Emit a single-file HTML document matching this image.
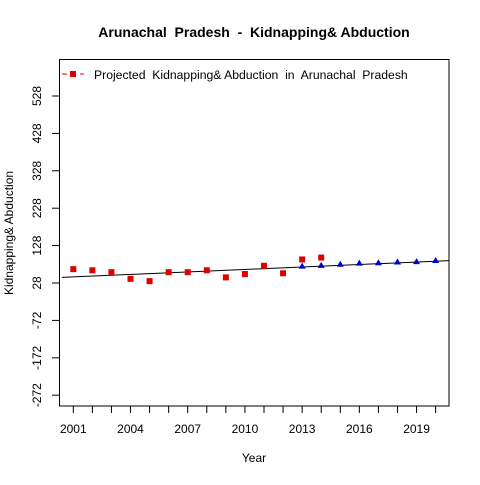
<!DOCTYPE html>
<html><head><meta charset="utf-8"><style>
body{margin:0;background:#fff;}
svg text{font-family:"Liberation Sans",Arial,sans-serif;white-space:pre;}
</style></head><body>
<svg id="chart" width="480" height="480" xmlns="http://www.w3.org/2000/svg">
<rect width="480" height="480" fill="#fff"/>
<defs><clipPath id="pc"><rect x="59.5" y="59.5" width="389.5" height="346.5"/></clipPath></defs>
<text x="254" y="37" text-anchor="middle" font-size="14" font-weight="bold">Arunachal  Pradesh  -  Kidnapping&amp; Abduction</text>
<text x="254" y="462" text-anchor="middle" font-size="12">Year</text>
<text transform="translate(13,233) rotate(-90)" text-anchor="middle" font-size="12">Kidnapping&amp; Abduction</text>
<g id="axes"></g>
<g id="marks" clip-path="url(#pc)"></g>
<rect x="59.5" y="59.5" width="389.5" height="346.5" fill="none" stroke="#000"/>
<g>
<line x1="62" y1="74" x2="84" y2="74" stroke="#e00000" stroke-dasharray="5,4"/>
<rect x="70" y="71" width="6" height="6" fill="#e00000"/>
<text x="94" y="79" font-size="12.2">Projected  Kidnapping&amp; Abduction  in  Arunachal  Pradesh</text>
</g>
</svg>
<script>
const actualYears=[2001,2002,2003,2004,2005,2006,2007,2008,2009,2010,2011,2012,2013,2014];
const actualValues=[65,62,57,39,33,57,57,62,43,52,74,54,91,96];
const projYears=[2013,2014,2015,2016,2017,2018,2019,2020];
const projValues=[73,75,78,81,82,84,85,88];
const trendStart=[2000.4,43];
const trendEnd=[2020.8,88];
const yTicks=[-272,-172,-72,28,128,228,328,428,528];
const xTickYears=[2001,2002,2003,2004,2005,2006,2007,2008,2009,2010,2011,2012,2013,2014,2015,2016,2017,2018,2019,2020];
const xLabels=[2001,2004,2007,2010,2013,2016,2019];
const NS="http://www.w3.org/2000/svg";
function X(yr){return 73.3+(yr-2001)*19.07;}
function Y(v){return 283-(v-28)*0.374;}
function mk(tag,attrs,parent){const e=document.createElementNS(NS,tag);for(const k in attrs)e.setAttribute(k,attrs[k]);parent.appendChild(e);return e;}
const axes=document.getElementById('axes'),marks=document.getElementById('marks');
yTicks.forEach(v=>{
 const l=mk('line',{x1:52,x2:59.5,y1:Y(v),y2:Y(v),stroke:'#000'},axes);
 
 
 const t=mk('text',{transform:`translate(41,${Y(v)}) rotate(-90)`,'text-anchor':'middle','font-size':'12'},axes);
 t.textContent=v;
 
 
});
xTickYears.forEach(yr=>{
 const l=mk('line',{x1:X(yr),x2:X(yr),y1:406,y2:413,stroke:'#000'},axes);
 
 
});
xLabels.forEach(yr=>{
 const t=mk('text',{x:X(yr),y:433,'text-anchor':'middle','font-size':'12'},axes);
 t.textContent=yr;
 
 
});
const tl=mk('line',{x1:X(trendStart[0]),y1:Y(trendStart[1]),x2:X(trendEnd[0]),y2:Y(trendEnd[1]),stroke:'#000','stroke-width':1},marks);


actualYears.forEach((yr,i)=>{
 const r=mk('rect',{x:X(yr)-3,y:Y(actualValues[i])-3,width:6,height:6,fill:'#e00000'},marks);
 
 
});
projYears.forEach((yr,i)=>{
 const x=X(yr),y=Y(projValues[i]);
 const p=mk('polygon',{points:`${x},${y-3.5} ${x-3.5},${y+2.5} ${x+3.5},${y+2.5}`,fill:'#0000cc'},marks);
 
 
});
</script>
</body></html>
